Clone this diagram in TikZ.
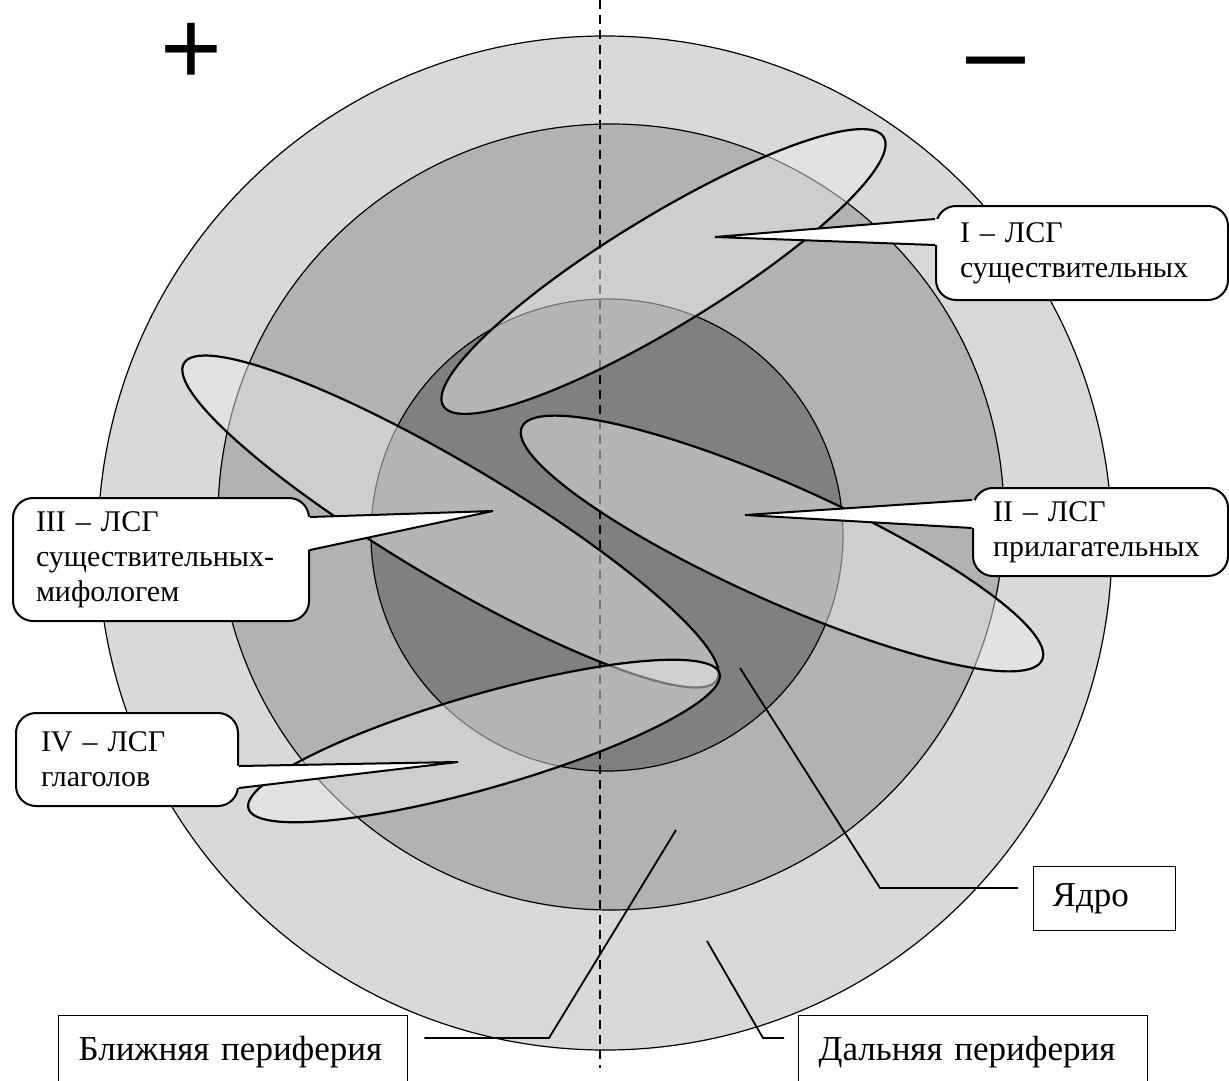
\documentclass[tikz,border=0pt]{standalone}
\usepackage{fontspec}
\setmainfont{Liberation Serif}
\newfontfamily\signfont{Liberation Sans}
\usetikzlibrary{calc,positioning}

\definecolor{outergray}{RGB}{217,217,217}
\definecolor{midgray}{RGB}{178,178,178}
\definecolor{coregray}{RGB}{128,128,128}
\definecolor{fieldgray}{RGB}{235,235,235}

% pointer of a callout: box side, tip, upper y, lower y, inward shift
\newcommand{\calloutwedge}[5]{%
  \fill[white] (#2) -- ($(#1 |- 0,#3)+(#5,0)$) -- ($(#1 |- 0,#4)+(#5,0)$) -- cycle;
  \draw[wedge] (#1 |- 0,#3) -- (#2) -- (#1 |- 0,#4);}

\begin{document}
\begin{tikzpicture}[
    x=1pt, y=-1pt,
    zone/.style={draw=black, line width=1.2pt},
    field/.style={fill=fieldgray, fill opacity=0.5, draw=black, line width=2.2pt},
    callout/.style={draw, line width=2pt, rounded corners=20pt, fill=white,
        anchor=north west, align=left, font=\fontsize{30}{35}\selectfont},
    wedge/.style={line width=2pt, line join=miter},
    labelbox/.style={draw, line width=1.3pt, fill=white, anchor=north west,
        align=left, font=\fontsize{35}{39}\selectfont},
    leader/.style={line width=1.8pt},
    sign/.style={font=\signfont\fontsize{106}{110}\selectfont, inner sep=0pt}
]
\useasboundingbox (0,0) rectangle (1229,1081);

% Zones
\draw[zone, fill=outergray] (605,543) circle[radius=507];
\draw[zone, fill=midgray] (611,517) circle[radius=393];
\draw[zone, fill=coregray] (607,535) circle[radius=236];

% Axis
\draw[line width=1.3pt, dash pattern=on 9pt off 6pt] (600,0) -- (600,1068);

% Fields
\draw[field, rotate around={31.4:(663.5,271.5)}] (663.5,271.5) ellipse [x radius=258, y radius=55];
\draw[field, rotate around={-24.1:(782,543.5)}] (782,543.5) ellipse [x radius=285, y radius=58];
\draw[field, rotate around={-30.7:(450.5,521.5)}] (450.5,521.5) ellipse [x radius=310, y radius=58];
\draw[field, rotate around={16:(484,741)}] (484,741) ellipse [x radius=245, y radius=47];

% Callouts
\node[callout, minimum width=292pt, minimum height=94pt, inner xsep=24pt, text width=244pt]
    (noun) at (935,205) {I – ЛСГ\\существительных};
\node[callout, minimum width=255pt, minimum height=88pt, inner xsep=20pt, text width=215pt]
    (adj) at (972,487) {II – ЛСГ\\прилагательных};
\node[callout, minimum width=296pt, minimum height=123pt, inner xsep=23pt, text width=250pt]
    (myth) at (12,497) {III – ЛСГ\\существительных-\\мифологем};
\node[callout, minimum width=222pt, minimum height=93pt, inner xsep=25pt, text width=172pt]
    (verb) at (15,712) {IV – ЛСГ\\глаголов};

\coordinate (noun tip) at (715,237);
\coordinate (adj tip) at (745,515);
\coordinate (myth tip) at (493,511);
\coordinate (verb tip) at (458,762);

\calloutwedge{noun.west}{noun tip}{219}{245}{3}
\calloutwedge{adj.west}{adj tip}{500}{528}{3}
\calloutwedge{myth.east}{myth tip}{517}{550}{-3}
\calloutwedge{verb.east}{verb tip}{766}{788}{-3}

% Zone labels
\node[labelbox, minimum width=142pt, minimum height=64pt, inner xsep=19pt, text width=104pt]
    (core box) at (1033,866) {Ядро};
\node[labelbox, minimum width=349pt, minimum height=72pt, inner xsep=20pt, text width=309pt]
    (near box) at (58,1015) {Ближняя периферия};
\node[labelbox, minimum width=349pt, minimum height=72pt, inner xsep=20pt, text width=309pt]
    (far box) at (798,1015) {Дальняя периферия};

\coordinate (core pt) at (740,668);
\coordinate (near pt) at (676,830);
\coordinate (far pt) at (707,941);

\draw[leader] (core pt) -- (880,888) -- ($(core box.west |- 0,888)+(-15,0)$);
\draw[leader] (near pt) -- (549,1038) -- ($(near box.east |- 0,1038)+(16,0)$);
\draw[leader] (far pt) -- (763,1038) -- ($(far box.west |- 0,1038)+(-14,0)$);

% Signs
\node[sign] (plus) at (191,54) {+};
\node[sign, anchor=base] (minus) at (996,88) {–};
\end{tikzpicture}
\end{document}
